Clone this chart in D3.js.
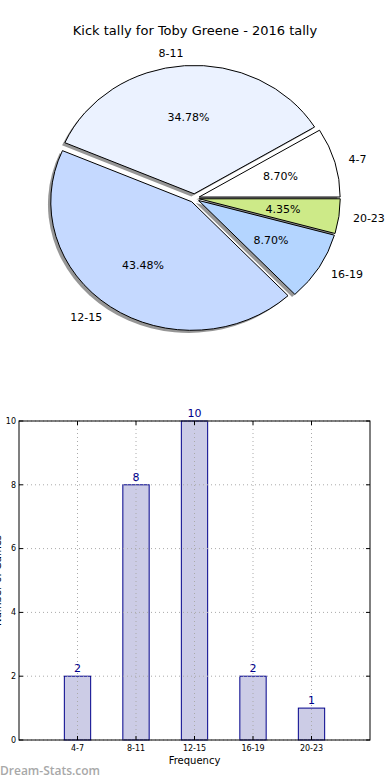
<!DOCTYPE html>
<html><head><meta charset="utf-8">
<script src="https://cdn.jsdelivr.net/npm/d3@7"></script>
<style>body{margin:0;background:#fff}svg{display:block}</style>
</head><body><svg id="c" width="390" height="780"></svg>
<script>
const title = "Kick tally for Toby Greene - 2016 tally";
const categories = ["4-7","8-11","12-15","16-19","20-23"];
const counts = [2, 8, 10, 2, 1];
const pieOrder = ["4-7","8-11","12-15","16-19","20-23"];
const pieColors = ["#ffffff","#ebf2ff","#c5d9ff","#b4d5ff","#cdea88"];
const yTicks = [0,2,4,6,8,10];
const xLabel = "Frequency";
const yLabel = "Number of Games";
const watermark = "Dream-Stats.com";

const svg = d3.select("#c");
const font = "DejaVu Sans, sans-serif";

// ---- Pie ----
svg.append("text").attr("x",195).attr("y",34.5).attr("text-anchor","middle")
  .attr("font-family",font).attr("font-size",13).text(title);

const cx = 194.5, cy = 198.2, rx = 141, ry = 128.5, expl = 0.034;
const total = d3.sum(counts);
const pieVals = pieOrder.map(c => counts[categories.indexOf(c)]);
const pie = d3.pie().sort(null).startAngle(0).endAngle(2*Math.PI)(pieVals);
const arc = d3.arc().innerRadius(0).outerRadius(1);
const pg = svg.append("g");
const wedges = pie.map((p,i) => {
  const t1 = p.startAngle, t2 = p.endAngle; // math angles, ccw from east
  const tm = (t1+t2)/2;
  const ox = cx + expl*rx*Math.cos(tm), oy = cy - expl*ry*Math.sin(tm);
  return {i, t1, t2, tm, ox, oy, v: p.data};
});
// shadows
wedges.forEach(w => {
  pg.append("g").attr("transform",`translate(${w.ox-2.8},${w.oy+2.6}) scale(${rx},${ry})`)
    .append("path").attr("d", arc({startAngle: Math.PI/2 - w.t1, endAngle: Math.PI/2 - w.t2}))
    .attr("fill","#6a6a6a").attr("fill-opacity",0.7).attr("stroke","none");
});
wedges.forEach(w => {
  pg.append("g").attr("transform",`translate(${w.ox},${w.oy}) scale(${rx},${ry})`)
    .append("path").attr("d", arc({startAngle: Math.PI/2 - w.t1, endAngle: Math.PI/2 - w.t2}))
    .attr("fill", pieColors[w.i]).attr("stroke","#000").attr("stroke-width",1)
    .attr("vector-effect","non-scaling-stroke").attr("stroke-linejoin","round");
});
wedges.forEach(w => {
  const c = Math.cos(w.tm), s = Math.sin(w.tm);
  pg.append("text").attr("x", w.ox + 1.1*rx*c).attr("y", w.oy - 1.1*ry*s)
    .attr("dy","0.35em").attr("text-anchor", c > 0 ? "start" : "end")
    .attr("font-family",font).attr("font-size",11).text(pieOrder[w.i]);
  pg.append("text").attr("x", w.ox + 0.6*rx*c).attr("y", w.oy - 0.6*ry*s)
    .attr("dy","0.35em").attr("text-anchor","middle")
    .attr("font-family",font).attr("font-size",11)
    .text((100*w.v/total).toFixed(2)+"%");
});

// ---- Bars ----
const L = 19, R = 370, T = 421, B = 740;
const x = d3.scaleLinear().domain([0, categories.length+1]).range([L, R]);
const y = d3.scaleLinear().domain([0, 10]).range([B, T]);
const bw = x(0.45) - x(0);
const bg = svg.append("g");
bg.selectAll("rect.bar").data(counts).join("rect")
  .attr("x",(d,i)=>x(i+1)-bw/2).attr("y",d=>y(d))
  .attr("width",bw).attr("height",d=>B-y(d))
  .attr("fill","#ccccE6").attr("stroke","#00008b").attr("stroke-width",1);
// grid on top
yTicks.forEach(t => bg.append("line").attr("x1",L).attr("x2",R).attr("y1",y(t)).attr("y2",y(t))
  .attr("stroke","#aaa").attr("stroke-dasharray","1,3"));
categories.forEach((c,i) => bg.append("line").attr("x1",x(i+1)).attr("x2",x(i+1)).attr("y1",T).attr("y2",B)
  .attr("stroke","#aaa").attr("stroke-dasharray","1,3"));
// frame
bg.append("rect").attr("x",L).attr("y",T).attr("width",R-L).attr("height",B-T)
  .attr("fill","none").attr("stroke","#000").attr("stroke-width",1);
// ticks inward
yTicks.forEach(t => {
  bg.append("line").attr("x1",L).attr("x2",L+4).attr("y1",y(t)).attr("y2",y(t)).attr("stroke","#000");
  bg.append("line").attr("x1",R).attr("x2",R-4).attr("y1",y(t)).attr("y2",y(t)).attr("stroke","#000");
  bg.append("text").attr("x",L-3).attr("y",y(t)).attr("dy","0.35em").attr("text-anchor","end")
    .attr("font-family",font).attr("font-size",8).text(t);
});
categories.forEach((c,i) => {
  bg.append("line").attr("x1",x(i+1)).attr("x2",x(i+1)).attr("y1",B).attr("y2",B-4).attr("stroke","#000");
  bg.append("line").attr("x1",x(i+1)).attr("x2",x(i+1)).attr("y1",T).attr("y2",T+4).attr("stroke","#000");
  bg.append("text").attr("x",x(i+1)).attr("y",B+11).attr("text-anchor","middle")
    .attr("font-family",font).attr("font-size",8).text(c);
});
bg.selectAll("text.val").data(counts).join("text")
  .attr("x",(d,i)=>x(i+1)).attr("y",d=>y(d)-4).attr("text-anchor","middle")
  .attr("font-family",font).attr("font-size",11).attr("fill","#00008b").text(d=>d);
bg.append("text").attr("x",(L+R)/2).attr("y",764).attr("text-anchor","middle")
  .attr("font-family",font).attr("font-size",10).text(xLabel);
bg.append("text").attr("transform",`translate(1,${(T+B)/2}) rotate(-90)`).attr("text-anchor","middle")
  .attr("font-family",font).attr("font-size",10).text(yLabel);
svg.append("text").attr("x",0).attr("y",775).attr("font-family","Open Sans, sans-serif")
  .attr("font-size",12).attr("font-weight",600).attr("fill","#a8a8a8").text(watermark);
</script></body></html>
